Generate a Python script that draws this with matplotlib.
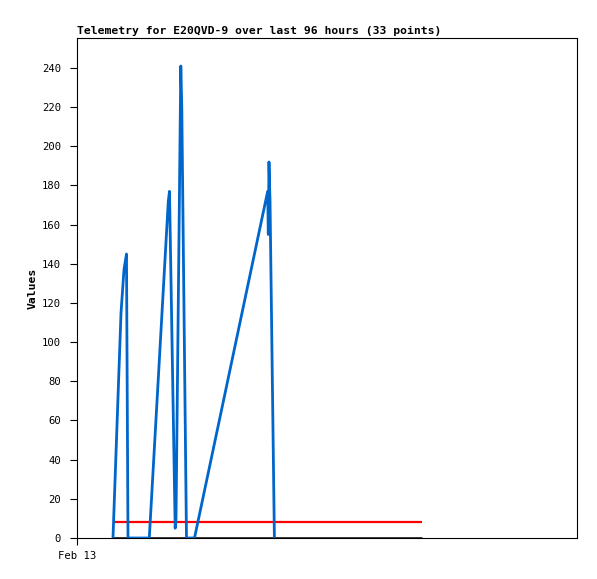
import matplotlib
matplotlib.use("Agg")
import matplotlib.pyplot as plt

# Hours since Feb 13 00:00
hours = [6.91, 8.45, 9.02, 9.50, 9.79,
         13.88, 17.53, 17.76, 18.85, 19.01, 19.93, 20.12, 21.02,
         22.56, 36.61, 36.73, 36.86, 37.06, 37.9]
values = [0, 115, 137, 145, 0,
          0, 172, 177, 5, 10, 241, 220, 0,
          0, 177, 155, 192, 172, 0]

thr_hours = [6.91, 66.24]
thr_values = [8, 8]
base_values = [0, 0]

x_ticks = [0]
x_ticklabels = ["Feb 13"]
y_ticks = list(range(0, 241, 20))

fig = plt.figure(figsize=(5.97, 5.79), dpi=100)
ax = fig.add_axes([77/597, 41/579, 500/597, 500/579])

ax.plot(thr_hours, base_values, color="black", lw=1.8, solid_capstyle="butt", zorder=2)
ax.plot(thr_hours, thr_values, color="#ff0000", lw=1.6, solid_capstyle="butt", zorder=3)
ax.plot(hours, values, color="#0066cc", lw=2.0, zorder=4)

ax.set_xlim(0, 96)
ax.set_ylim(0, 255.3)
ax.set_xticks(x_ticks)
ax.set_xticklabels(x_ticklabels)
ax.set_yticks(y_ticks)

mono = "DejaVu Sans Mono"
for lab in ax.get_yticklabels() + ax.get_xticklabels():
    lab.set_fontfamily(mono)
    lab.set_fontsize(7.6)
ax.tick_params(axis="y", direction="out", length=5, width=0.8, pad=6.5)
ax.tick_params(axis="x", direction="out", length=5, width=0.8, pad=4.5)

for s in ax.spines.values():
    s.set_linewidth(0.8)
    s.set_color("black")

ax.set_ylabel("Values", fontfamily=mono, fontweight="bold", fontsize=8.2, labelpad=3)
ax.set_title("Telemetry for E20QVD-9 over last 96 hours (33 points)",
             fontfamily=mono, fontweight="bold", fontsize=8.2, loc="left", pad=3)

fig.savefig("out.png", dpi=100)
